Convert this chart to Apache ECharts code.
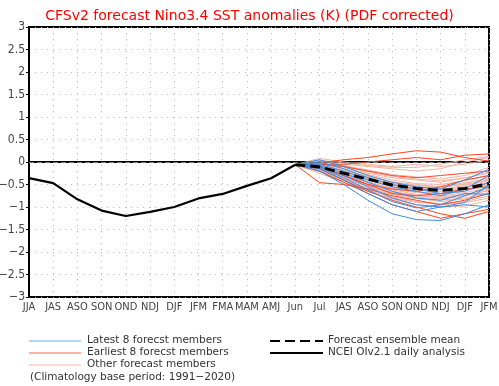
<!DOCTYPE html>
<html><head><meta charset="utf-8">
<script src="https://cdn.jsdelivr.net/npm/echarts@6/dist/echarts.min.js"></script>
<style>html,body{margin:0;padding:0;background:#fff}#c{width:499px;height:386px}</style>
</head><body><div id="c"></div>
<script>
const categories = ['JJA','JAS','ASO','SON','OND','NDJ','DJF','JFM','FMA','MAM','AMJ','Jun','Jul','JAS','ASO','SON','OND','NDJ','DJF','JFM'];
const yTicks = [-3,-2.5,-2,-1.5,-1,-0.5,0,0.5,1,1.5,2,2.5,3];
// observed JJA..Jun
const observed = [-0.36,-0.47,-0.83,-1.08,-1.2,-1.11,-1.0,-0.81,-0.71,-0.53,-0.36,-0.06];
// forecast Jun..JFM
const ensembleMean = [-0.06,-0.11,-0.25,-0.38,-0.51,-0.59,-0.63,-0.59,-0.48];
const latestMembers = [
  [-0.06,0.05,-0.1,-0.3,-0.45,-0.55,-0.6,-0.4,-0.16],
  [-0.06,-0.15,-0.4,-0.7,-0.95,-1.1,-1.0,-0.9,-0.5],
  [-0.06,-0.2,-0.5,-0.85,-1.15,-1.28,-1.3,-1.15,-0.95],
  [-0.06,-0.1,-0.3,-0.55,-0.8,-0.95,-1.0,-0.95,-1.0],
  [-0.06,-0.05,-0.2,-0.4,-0.55,-0.65,-0.75,-0.6,-0.3],
  [-0.06,-0.12,-0.35,-0.62,-0.88,-1.02,-0.95,-0.75,-0.55],
  [-0.06,0.0,-0.15,-0.35,-0.5,-0.6,-0.7,-0.65,-0.45],
  [-0.06,-0.08,-0.25,-0.45,-0.65,-0.8,-0.85,-0.7,-0.72]
];
const earliestMembers = [
  [-0.06,-0.02,0.05,0.1,0.18,0.25,0.22,0.1,0.02],
  [-0.06,-0.46,-0.5,-0.6,-0.75,-0.85,-0.95,-0.85,-0.7],
  [-0.06,-0.2,-0.45,-0.7,-0.95,-1.1,-1.25,-1.15,-1.05],
  [-0.06,-0.05,-0.05,0.0,0.05,0.1,0.05,0.15,0.18],
  [-0.06,-0.1,-0.3,-0.5,-0.6,-0.65,-0.55,-0.4,-0.3],
  [-0.06,-0.15,-0.4,-0.65,-0.85,-1.0,-1.15,-1.25,-1.1],
  [-0.06,-0.05,-0.1,-0.2,-0.3,-0.35,-0.3,-0.25,-0.2],
  [-0.06,-0.12,-0.3,-0.5,-0.7,-0.75,-0.7,-0.6,-0.55]
];
const otherMembers = [
  [-0.06,0.02,-0.05,-0.1,-0.15,-0.2,-0.15,0.0,0.1],
  [-0.06,0.08,0.0,-0.05,-0.1,-0.05,-0.1,-0.05,0.05],
  [-0.06,-0.03,-0.12,-0.25,-0.35,-0.4,-0.45,-0.35,-0.25],
  [-0.06,-0.07,-0.2,-0.33,-0.45,-0.5,-0.55,-0.5,-0.4],
  [-0.06,-0.1,-0.25,-0.4,-0.52,-0.6,-0.62,-0.55,-0.45],
  [-0.06,-0.13,-0.3,-0.45,-0.6,-0.68,-0.72,-0.65,-0.5],
  [-0.06,-0.16,-0.33,-0.5,-0.65,-0.75,-0.78,-0.72,-0.6],
  [-0.06,-0.18,-0.38,-0.58,-0.72,-0.82,-0.85,-0.8,-0.68],
  [-0.06,-0.22,-0.42,-0.62,-0.8,-0.9,-0.92,-0.88,-0.75],
  [-0.06,-0.09,-0.22,-0.36,-0.48,-0.55,-0.58,-0.48,-0.35],
  [-0.06,-0.04,-0.15,-0.28,-0.4,-0.48,-0.5,-0.42,-0.3],
  [-0.06,-0.11,-0.27,-0.44,-0.58,-0.66,-0.7,-0.62,-0.52],
  [-0.06,-0.02,-0.08,-0.18,-0.28,-0.33,-0.38,-0.3,-0.12],
  [-0.06,-0.14,-0.32,-0.52,-0.68,-0.78,-0.82,-0.76,-0.62],
  [-0.06,-0.19,-0.4,-0.6,-0.77,-0.88,-0.95,-0.9,-0.8],
  [-0.06,-0.06,-0.18,-0.32,-0.44,-0.52,-0.56,-0.46,-0.38],
  [-0.06,-0.12,-0.28,-0.46,-0.62,-0.72,-0.76,-0.68,-0.58],
  [-0.06,-0.08,-0.2,-0.38,-0.5,-0.58,-0.62,-0.52,-0.42],
  [-0.06,-0.25,-0.45,-0.65,-0.82,-0.95,-1.0,-0.98,-0.85],
  [-0.06,0.04,-0.02,-0.08,-0.12,-0.12,-0.05,0.05,0.12],
  [-0.06,-0.15,-0.35,-0.55,-0.7,-0.8,-0.88,-0.82,-0.7],
  [-0.06,-0.1,-0.24,-0.4,-0.55,-0.62,-0.66,-0.58,-0.48],
  [-0.06,-0.2,-0.36,-0.54,-0.68,-0.74,-0.8,-0.74,-0.64],
  [-0.06,-0.03,-0.1,-0.22,-0.32,-0.38,-0.42,-0.36,-0.22]
];
const legendLeft = ['Latest 8 forecst members','Earliest 8 forecst members','Other forecast members'];
const legendRight = ['Forecast ensemble mean','NCEI OIv2.1 daily analysis'];
const footnote = '(Climatology base period: 1991\u22122020)';

const nObs = observed.length;
const startF = nObs - 1;
function obsData(){ return categories.map((c,i)=> i<nObs ? observed[i] : null); }
function fcData(arr){ return categories.map((c,i)=> i>=startF ? arr[i-startF] : null); }
function memberSeries(list, color, width){
  return list.map(m=>({type:'line', data:fcData(m), symbol:'none', silent:true,
    lineStyle:{color:color, width:width}, z:2}));
}
const series = [].concat(
  memberSeries(otherMembers,'#f0b4a4',1),
  memberSeries(earliestMembers,'#ff4422',1),
  memberSeries(latestMembers,'#3a8ee6',1),
  [{type:'line', data:fcData(ensembleMean), symbol:'none', lineStyle:{color:'#000', width:3, type:[10,5]}, z:5},
   {type:'line', data:obsData(), symbol:'none', lineStyle:{color:'#000', width:2.2}, z:5,
    markLine:{silent:true, symbol:'none', label:{show:false}, lineStyle:{color:'#777', width:1, type:[5,3]}, data:[{yAxis:0}]}}]
);
const lblFont = '"DejaVu Sans Condensed", "Liberation Sans Narrow", sans-serif';
const chart = echarts.init(document.getElementById('c'), null, {renderer:'canvas'});
chart.setOption({
  animation:false,
  backgroundColor:'#fff',
  title:{text:'CFSv2 forecast Nino3.4 SST anomalies (K) (PDF corrected)', left:'center', top:4,
    textStyle:{color:'#ff0000', fontSize:14, fontWeight:'normal', fontFamily:'DejaVu Sans'}},
  grid:{left:29, right:10, top:27, bottom:89, containLabel:false, outerBoundsMode:'none',
    show:true, borderColor:'#000', borderWidth:2, backgroundColor:'transparent'},
  xAxis:{type:'category', data:categories, boundaryGap:false,
    axisLine:{lineStyle:{color:'#000', width:2}},
    axisTick:{show:false},
    axisLabel:{color:'#444', fontSize:11, fontFamily:lblFont, margin:5, interval:0},
    splitLine:{show:true, interval:0, lineStyle:{color:'#bbb', type:[1,5], width:1}}},
  yAxis:{type:'value', min:-3, max:3, interval:0.5,
    axisLine:{show:true, lineStyle:{color:'#000', width:2}},
    axisTick:{show:true, length:3, lineStyle:{color:'#000'}},
    axisLabel:{color:'#444', fontSize:12, fontFamily:lblFont, margin:4,
      formatter:v=>{const t=yTicks.find(x=>Math.abs(x-v)<1e-9); return String(t===undefined?v:t).replace('-','\u2212');}},
    splitLine:{show:true, lineStyle:{color:'#bbb', type:[1,5], width:1}}},
  series:series,
  graphic:[
    {type:'line', shape:{x1:29,y1:341,x2:81,y2:341}, style:{stroke:'#6aaef0', lineWidth:1}},
    {type:'line', shape:{x1:29,y1:353,x2:81,y2:353}, style:{stroke:'#ff6644', lineWidth:1}},
    {type:'line', shape:{x1:29,y1:365,x2:81,y2:365}, style:{stroke:'#f2b8a6', lineWidth:1}},
    {type:'text', left:87, top:335, style:{text:legendLeft[0], fill:'#333', font:'10.5px "DejaVu Sans"'}},
    {type:'text', left:87, top:347, style:{text:legendLeft[1], fill:'#333', font:'10.5px "DejaVu Sans"'}},
    {type:'text', left:87, top:359, style:{text:legendLeft[2], fill:'#333', font:'10.5px "DejaVu Sans"'}},
    {type:'text', left:30, top:372, style:{text:footnote, fill:'#333', font:'10.5px "DejaVu Sans"'}},
    {type:'line', shape:{x1:270,y1:341,x2:323,y2:341}, style:{stroke:'#000', lineWidth:2, lineDash:[10,5]}},
    {type:'line', shape:{x1:270,y1:353,x2:323,y2:353}, style:{stroke:'#000', lineWidth:2}},
    {type:'text', left:328, top:335, style:{text:legendRight[0], fill:'#333', font:'10.5px "DejaVu Sans"'}},
    {type:'text', left:328, top:347, style:{text:legendRight[1], fill:'#333', font:'10.5px "DejaVu Sans"'}}
  ]
});
</script></body></html>
